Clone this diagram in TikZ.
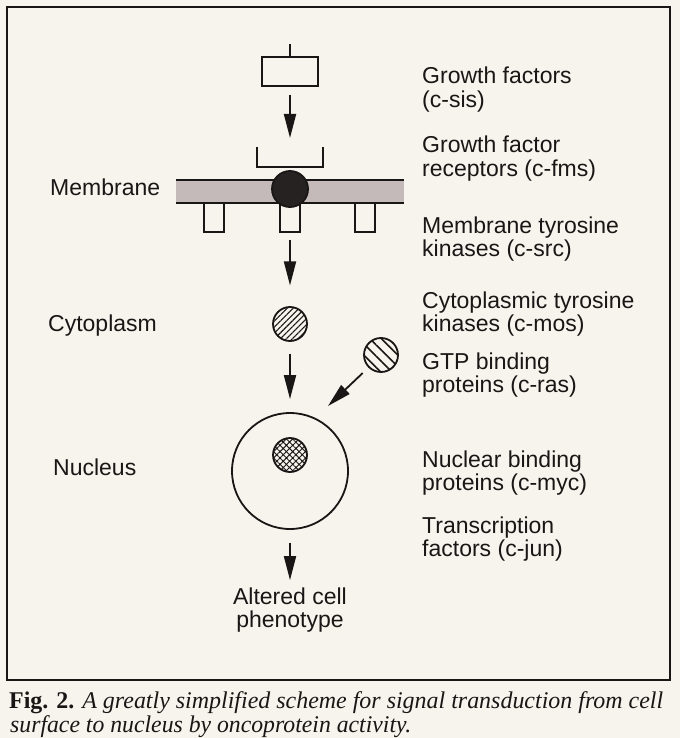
\documentclass[tikz,border=0pt]{standalone}
\usepackage{fontspec}
\setmainfont{Liberation Sans}
\newfontfamily\capfont{Liberation Serif}
\usetikzlibrary{arrows.meta,patterns.meta}
\definecolor{paper}{RGB}{247,244,237}
\definecolor{ink}{RGB}{25,22,22}
\definecolor{memb}{RGB}{196,186,186}
\definecolor{dark}{RGB}{38,34,34}
\newcommand\twolines[2]{\vtop{\hbox{#1}\hbox{#2}}}
\tikzset{
  lab/.style={font=\fontsize{23pt}{23.5pt}\selectfont, inner sep=0pt, text=ink},
  rlab/.style={lab, anchor=base west},
  llab/.style={lab, anchor=base west},
  ln/.style={draw=ink, line width=1.8pt},
  arr/.style={ln, -{Triangle[length=24pt,width=12pt]}},
  ghost/.style={inner sep=0pt, outer sep=0pt},
  dot/.style={circle, draw=ink, line width=1.8pt, inner sep=0pt, minimum size=34pt},
}
\begin{document}
\begin{tikzpicture}[x=1pt,y=-1pt]
\fill[paper] (0,0) rectangle (680,738);
\useasboundingbox (0,0) rectangle (680,738);
\draw[ink, line width=2pt] (7,7) rectangle (670,680);

% growth factor
\coordinate (in) at (290,44);
\node[ghost, draw=ink, line width=1.8pt, minimum width=56pt, minimum height=29pt] (gf) at (290,71.5) {};
\draw[ln] (in) -- (gf.north);

% receptor cup
\node[ghost, minimum width=66pt, minimum height=20pt] (rec) at (290,157) {};
\draw[ln] (rec.north west) -- (rec.south west) -- (rec.south east) -- (rec.north east);
\draw[arr, shorten <=9pt, shorten >=9pt] (gf.south) -- (rec.north);

% membrane
\node[ghost, fill=memb, minimum width=228pt, minimum height=23pt] (memb) at (290,191.5) {};
\draw[ln] (memb.north west) -- (memb.north east);
\draw[ln] (memb.south west) -- (memb.south east);

% kinases
\foreach \n/\x in {k1/214, k2/290, k3/365}{
  \node[ghost, minimum width=20pt, minimum height=29pt] (\n) at (\x,217.5) {};
  \draw[ln] (\n.north west) -- (\n.south west) -- (\n.south east) -- (\n.north east);
}

% receptor body
\node[dot, fill=dark, minimum size=36pt] (rc) at (290,189) {};

% cytoplasmic kinase
\node[dot, pattern={Lines[angle=45,distance=4.2pt,line width=1.1pt]}, pattern color=ink] (cy) at (290,324) {};
\draw[arr, shorten <=8pt, shorten >=21pt] (k2.south) -- (cy.north);

% GTP binding
\node[dot, pattern={Lines[angle=-45,distance=8pt,line width=1.6pt]}, pattern color=ink] (gtp) at (381,355) {};

% nucleus
\node[circle, draw=ink, line width=1.8pt, inner sep=0pt, minimum size=116pt] (nuc) at (290,471) {};
\node[dot, pattern={Hatch[angle=45,distance=4.5pt,line width=0.9pt]}, pattern color=ink] (nb) at (290,455) {};
\draw[arr, shorten <=12pt, shorten >=13pt] (cy.south) -- (nuc.north);
\coordinate (tip) at (328,406);
\draw[arr, shorten <=8pt] (gtp.225) -- (tip);

% phenotype
\node[lab, anchor=base] (alt) at (290,604) {\vtop{\halign{\hfil#\hfil\cr Altered cell\cr phenotype\cr}}};
\draw[arr, shorten <=13pt, shorten >=7pt] (nuc.south) -- (alt.north);

% left labels
\node[llab] (lm) at (50,195) {Membrane};
\node[llab] (lc) at (48,331) {Cytoplasm};
\node[llab] (ln) at (53,475) {Nucleus};

% right labels
\node[rlab] (t1) at (422,84) {\twolines{Growth factors}{(c-sis)}};
\node[rlab] (t2) at (422,153) {\twolines{Growth factor}{receptors (c-fms)}};
\node[rlab] (t3) at (422,233) {\twolines{Membrane tyrosine}{kinases (c-src)}};
\node[rlab] (t4) at (422,308) {\twolines{Cytoplasmic tyrosine}{kinases (c-mos)}};
\node[rlab] (t5) at (422,369) {\twolines{GTP binding}{proteins (c-ras)}};
\node[rlab] (t6) at (422,467) {\twolines{Nuclear binding}{proteins (c-myc)}};
\node[rlab] (t7) at (422,533) {\twolines{Transcription}{factors (c-jun)}};

% caption
\node[inner sep=0pt, anchor=base west, text=ink, font=\capfont\fontsize{24pt}{24pt}\selectfont] (cap1) at (9,708)
  {\resizebox{654pt}{\height}{\textbf{Fig. 2.} \textit{A greatly simplified scheme for signal transduction from cell}}};
\node[inner sep=0pt, anchor=base west, text=ink, font=\capfont\fontsize{24pt}{24pt}\selectfont] (cap2) at (10,732)
  {\resizebox{401pt}{\height}{\textit{surface to nucleus by oncoprotein activity.}}};
\end{tikzpicture}
\end{document}
